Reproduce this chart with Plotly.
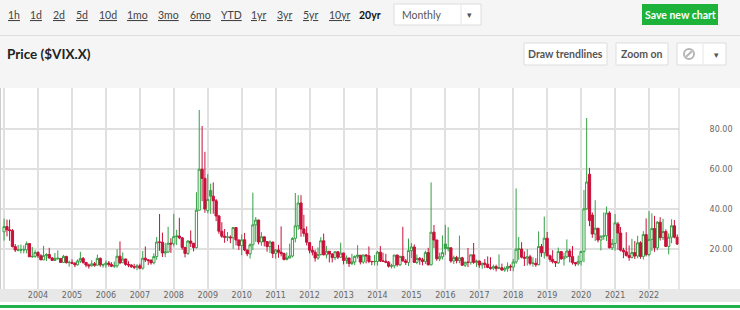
import plotly.graph_objects as go
import pandas as pd

W, H = 740, 310

# ---------------- data (monthly OHLC of $VIX.X, Jan 2003 - Nov 2022) ----------------
months = list(pd.date_range("2003-01-01", periods=239, freq="MS"))

opens = [
    28.6, 31.2, 29.6, 29.2, 21.2, 19.4, 19.6, 19.5, 19.6, 22.7, 16.1, 16.3,  # 2003
    18.3, 16.6, 14.6, 16.7, 17.2, 15.5, 14.3, 15.4, 15.3, 13.3, 16.3, 13.2,  # 2004
    13.3, 12.8, 12.1, 14.0, 15.3, 13.3, 12.0, 11.6, 12.6, 11.9, 15.3, 12.0,  # 2005
    12.1, 13.0, 12.3, 11.4, 11.6, 16.4, 13.1, 15.0, 12.3, 12.0, 11.1, 10.9,  # 2006
    11.6, 10.4, 15.4, 14.6, 14.2, 13.1, 16.2, 23.5, 23.4, 18.0, 18.5, 22.9,  # 2007
    22.6, 26.2, 26.5, 25.6, 20.8, 17.8, 24.0, 22.9, 20.7, 39.4, 59.9, 55.3,  # 2008
    39.2, 49.3, 46.4, 44.1, 36.5, 28.9, 26.4, 25.9, 26.0, 25.6, 30.7, 24.5,  # 2009
    21.7, 24.6, 19.5, 17.6, 22.1, 32.1, 34.5, 23.5, 26.1, 23.7, 21.2, 23.5,  # 2010
    17.8, 19.5, 18.4, 17.7, 14.8, 15.5, 16.5, 25.3, 31.6, 43.0, 30.0, 27.8,  # 2011
    23.2, 19.4, 18.4, 15.5, 17.2, 24.1, 17.1, 18.9, 17.5, 15.7, 18.6, 15.9,  # 2012
    18.0, 14.3, 15.5, 12.7, 13.5, 16.3, 16.9, 13.5, 17.0, 16.6, 13.8, 13.8,  # 2013
    13.7, 18.4, 14.0, 13.9, 13.4, 11.4, 11.6, 17.0, 12.1, 16.3, 14.0, 13.3,  # 2014
    19.2, 21.0, 13.3, 15.3, 14.6, 13.8, 18.2, 12.1, 28.4, 24.5, 15.1, 16.1,  # 2015
    22.5, 20.2, 20.6, 14.0, 15.7, 14.2, 15.6, 11.9, 13.4, 13.3, 17.1, 13.3,  # 2016
    14.0, 12.0, 12.9, 12.4, 10.8, 10.4, 11.2, 10.3, 10.6, 9.5, 10.2, 11.3,   # 2017
    11.0, 13.5, 19.9, 20.0, 15.9, 15.4, 16.1, 12.8, 12.9, 12.1, 21.2, 18.1,  # 2018
    25.4, 16.6, 14.8, 13.7, 13.1, 18.7, 15.1, 16.1, 19.0, 16.2, 13.2, 12.6,  # 2019
    13.8, 18.8, 40.1, 57.4, 37.0, 27.5, 30.4, 24.5, 26.6, 26.6, 38.0, 20.6,  # 2020
    22.8, 32.5, 28.0, 19.4, 18.6, 16.8, 15.8, 18.2, 16.5, 23.1, 16.3, 27.2,  # 2021
    17.2, 24.8, 30.2, 20.6, 33.4, 25.7, 28.7, 21.3, 25.9, 31.6, 25.9,        # 2022
]
highs = [
    35.2, 34.7, 34.7, 30.0, 22.5, 22.0, 22.2, 21.8, 23.8, 22.8, 21.0, 19.4,
    18.8, 17.4, 21.6, 17.9, 20.6, 16.0, 18.0, 19.3, 15.4, 17.1, 16.6, 14.2,
    14.8, 13.5, 14.8, 18.6, 16.0, 13.5, 12.7, 14.4, 13.5, 17.2, 15.8, 12.7,
    14.3, 14.0, 13.4, 13.7, 19.9, 23.8, 18.3, 15.2, 13.9, 12.4, 12.6, 12.4,
    12.7, 19.0, 21.3, 15.0, 15.0, 17.8, 26.0, 37.5, 28.2, 23.1, 31.1, 25.4,
    37.6, 29.6, 35.6, 26.0, 21.0, 24.4, 29.3, 23.0, 48.4, 89.5, 81.5, 68.6,
    57.4, 52.7, 53.3, 45.0, 37.0, 33.4, 30.0, 28.5, 26.8, 31.0, 31.0, 24.7,
    27.3, 28.0, 19.6, 22.8, 48.2, 36.0, 34.6, 28.4, 26.1, 23.9, 24.3, 23.6,
    19.9, 22.1, 31.3, 18.2, 18.3, 22.7, 25.9, 48.0, 46.9, 46.9, 37.1, 31.3,
    23.3, 21.5, 19.6, 20.8, 25.9, 27.7, 21.5, 19.0, 18.0, 19.0, 19.0, 23.2,
    18.1, 16.8, 15.6, 17.6, 16.8, 21.9, 17.0, 17.2, 17.4, 21.3, 14.0, 17.0,
    19.0, 21.5, 18.2, 17.6, 14.0, 12.6, 17.0, 17.1, 16.6, 31.1, 15.0, 25.2,
    23.0, 22.3, 17.3, 16.0, 15.6, 19.2, 20.6, 53.3, 32.0, 24.6, 18.2, 26.8,
    32.1, 30.9, 20.7, 16.7, 16.6, 26.7, 16.1, 13.6, 20.5, 17.2, 23.0, 14.7,
    14.2, 13.1, 15.0, 16.3, 15.9, 12.2, 12.2, 17.3, 12.7, 11.2, 13.3, 12.3,
    15.0, 50.3, 26.0, 23.4, 18.8, 19.9, 17.1, 15.8, 15.4, 28.8, 22.5, 36.2,
    28.5, 17.2, 19.4, 14.0, 20.7, 19.0, 18.1, 24.8, 20.0, 21.5, 13.5, 16.7,
    19.0, 49.5, 85.5, 60.6, 38.3, 44.4, 30.5, 26.7, 38.3, 41.2, 38.9, 25.0,
    37.5, 33.5, 31.0, 20.6, 28.4, 21.8, 25.1, 24.0, 26.6, 23.9, 28.9, 35.3,
    38.9, 37.8, 36.6, 34.0, 35.9, 35.1, 29.8, 27.8, 34.9, 34.5, 27.3,
]
lows = [
    24.2, 26.3, 24.1, 20.8, 18.5, 18.8, 17.8, 17.8, 17.8, 16.0, 15.6, 15.6,
    15.5, 14.4, 14.4, 14.0, 15.2, 14.1, 14.0, 14.5, 13.1, 13.2, 12.7, 11.2,
    12.5, 10.9, 11.7, 13.0, 12.6, 10.9, 10.2, 11.3, 11.1, 11.8, 11.1, 10.7,
    10.6, 11.1, 10.9, 10.6, 10.6, 12.4, 13.0, 11.6, 10.9, 10.6, 9.9, 9.4,
    9.9, 9.7, 13.5, 12.0, 12.2, 12.3, 14.6, 19.1, 16.0, 15.9, 18.1, 18.0,
    21.3, 22.0, 24.9, 19.6, 15.8, 17.1, 21.0, 18.8, 20.2, 39.3, 43.9, 38.1,
    37.9, 37.6, 37.6, 33.9, 27.6, 25.6, 23.1, 23.9, 22.9, 20.1, 21.8, 19.5,
    16.9, 18.9, 16.4, 15.2, 19.4, 23.6, 22.3, 21.6, 21.3, 18.6, 18.0, 15.5,
    15.2, 15.6, 16.3, 14.3, 14.3, 15.3, 15.8, 23.3, 29.6, 26.1, 26.2, 21.8,
    17.8, 16.8, 13.7, 14.6, 16.8, 16.8, 15.3, 13.3, 13.3, 14.4, 14.9, 15.5,
    12.3, 12.6, 11.0, 11.9, 11.9, 15.2, 12.3, 12.6, 12.8, 12.9, 11.9, 11.7,
    11.8, 13.5, 13.7, 12.9, 10.7, 10.3, 10.3, 11.2, 11.5, 13.7, 12.0, 11.5,
    15.5, 13.3, 12.4, 12.1, 11.8, 12.5, 11.8, 11.8, 20.5, 14.1, 13.9, 14.8,
    16.9, 18.8, 13.1, 12.5, 12.8, 12.9, 11.5, 11.0, 11.0, 12.2, 12.6, 11.0,
    10.6, 10.1, 10.4, 10.4, 9.6, 9.4, 8.8, 9.9, 9.2, 8.6, 8.6, 9.0,
    8.9, 12.6, 14.6, 15.3, 11.5, 11.7, 11.8, 11.2, 11.1, 11.9, 16.1, 15.2,
    16.3, 13.5, 12.8, 11.0, 12.5, 14.6, 11.7, 15.5, 13.3, 12.2, 11.4, 11.7,
    11.8, 13.4, 39.6, 31.4, 25.6, 24.0, 23.3, 19.3, 24.6, 24.0, 20.3, 19.5,
    19.2, 19.6, 18.8, 15.4, 16.2, 14.1, 15.3, 15.0, 15.4, 15.1, 14.7, 16.3,
    16.3, 19.0, 18.6, 19.4, 24.2, 24.5, 21.0, 17.3, 22.9, 25.3, 22.0,
]
closes = [
    31.2, 29.6, 29.2, 21.2, 19.5, 19.5, 19.5, 19.6, 22.7, 16.1, 16.3, 18.3,
    16.6, 14.6, 16.7, 17.2, 15.5, 14.3, 15.3, 15.3, 13.3, 16.3, 13.2, 13.3,
    12.8, 12.1, 14.0, 15.3, 13.3, 12.0, 11.6, 12.6, 11.9, 15.3, 12.1, 12.1,
    13.0, 12.3, 11.4, 11.6, 16.4, 13.1, 15.0, 12.3, 12.0, 11.1, 10.9, 11.6,
    10.4, 15.4, 14.6, 14.2, 13.1, 16.2, 23.5, 23.4, 18.0, 18.5, 22.9, 22.5,
    26.2, 26.5, 25.6, 20.8, 17.8, 24.0, 22.9, 20.7, 39.4, 59.9, 55.3, 40.0,
    44.8, 46.4, 44.1, 36.5, 28.9, 26.4, 25.9, 26.0, 25.6, 30.7, 24.5, 21.7,
    24.6, 19.5, 17.6, 22.1, 32.1, 34.5, 23.5, 26.1, 23.7, 21.2, 23.5, 17.8,
    19.5, 18.4, 17.7, 14.8, 15.5, 16.5, 25.3, 31.6, 43.0, 30.0, 27.8, 23.4,
    19.4, 18.4, 15.5, 17.2, 24.1, 17.1, 18.9, 17.5, 15.7, 18.6, 15.9, 18.0,
    14.3, 15.5, 12.7, 13.5, 16.3, 16.9, 13.5, 17.0, 16.6, 13.8, 13.7, 13.7,
    18.4, 14.0, 13.9, 13.4, 11.4, 11.6, 17.0, 12.1, 16.3, 14.0, 13.3, 19.2,
    21.0, 13.3, 15.3, 14.6, 13.8, 18.2, 12.1, 28.4, 24.5, 15.1, 16.1, 18.2,
    20.2, 20.6, 14.0, 15.7, 14.2, 15.6, 11.9, 13.4, 13.3, 17.1, 13.3, 14.0,
    12.0, 12.9, 12.4, 10.8, 10.4, 11.2, 10.3, 10.6, 9.5, 10.2, 11.3, 11.0,
    13.5, 19.9, 20.0, 15.9, 15.4, 16.1, 12.8, 12.9, 12.1, 21.2, 18.1, 25.4,
    16.6, 14.8, 13.7, 13.1, 18.7, 15.1, 16.1, 19.0, 16.2, 13.2, 12.6, 13.8,
    18.8, 40.1, 53.5, 34.2, 27.5, 30.4, 24.5, 26.4, 26.4, 38.0, 20.6, 22.8,
    33.1, 28.0, 19.4, 18.6, 16.8, 15.8, 18.2, 16.5, 23.1, 16.3, 27.2, 17.2,
    24.8, 30.2, 20.6, 33.4, 25.7, 28.7, 21.3, 25.9, 31.6, 25.9, 22.5,
]

year_ticks = [f"{y}-01-01" for y in range(2003, 2023)]
year_labels = [""] + [str(y) for y in range(2004, 2023)]
price_ticks = [20, 40, 60, 80]

period_labels = ["1h", "1d", "2d", "5d", "10d", "1mo", "3mo", "6mo", "YTD",
                 "1yr", "3yr", "5yr", "10yr"]
period_x = [6, 28, 51, 74, 97, 125, 156, 188, 219, 249, 275, 301, 327]

# ---------------- styling ----------------
GREEN = "#35a045"
RED = "#c8103a"
GRID = "#e0e0e0"
PAGE = "#f5f5f5"


def px(x):
    return x / W


def py(y):
    return (H - y) / H


n = len(closes)
prev = [opens[0]] + closes[:-1]
up = [i for i in range(n) if closes[i] >= prev[i]]
dn = [i for i in range(n) if closes[i] < prev[i]]


def sub(idx, arr):
    return [arr[i] for i in idx]


fig = go.Figure()
for idx, col in ((up, GREEN), (dn, RED)):
    fig.add_trace(go.Candlestick(
        x=sub(idx, months), open=sub(idx, opens), high=sub(idx, highs),
        low=sub(idx, lows), close=sub(idx, closes),
        increasing=dict(line=dict(color=col, width=1), fillcolor="white"),
        decreasing=dict(line=dict(color=col, width=1), fillcolor=col),
        whiskerwidth=0, showlegend=False,
    ))

shapes = []


def rect(x0, y0, x1, y1, fill, line=None, layer="below", lw=1):
    shapes.append(dict(type="rect", xref="paper", yref="paper",
                       x0=px(x0), x1=px(x1), y0=py(y1), y1=py(y0),
                       fillcolor=fill, layer=layer,
                       line=dict(width=lw if line else 0, color=line or fill)))


def hline(x0, y0, x1, y1, color, width=1, layer="below"):
    shapes.append(dict(type="line", xref="paper", yref="paper",
                       x0=px(x0), x1=px(x1), y0=py(y0), y1=py(y1),
                       line=dict(color=color, width=width), layer=layer))


# chart frame pieces
rect(679, 88, 740, 289, "white")
rect(0, 289, 740, 302, "#e8e8e8")
rect(0, 302, 740, 310, "white")
rect(0, 305, 740, 308, "#22b14c", layer="above")
hline(0.5, 88, 0.5, 289, "#cfcfcf", layer="above")
hline(679, 88, 679, 289, "#cfcfcf", layer="above")

# toolbar
hline(0, 35.5, 740, 35.5, "#dedede")
rect(394, 4, 481, 25, "white", line="#dddddd")
hline(461, 4, 461, 25, "#e6e6e6")
rect(642, 4, 718, 25, "#1db33b")
rect(524, 43, 607, 65, "white", line="#dddddd")
rect(616, 43, 668, 65, "white", line="#dddddd")
rect(677, 43, 726, 65, "white", line="#dddddd")
hline(703, 43, 703, 65, "#e6e6e6")
shapes.append(dict(type="circle", xref="paper", yref="paper",
                   x0=px(684), x1=px(694), y0=py(59), y1=py(49),
                   line=dict(color="#b5b5b5", width=2), layer="above"))
hline(686.2, 56.8, 691.8, 51.2, "#b5b5b5", width=2, layer="above")

annotations = []


def label(text, x, y, size=10.5, color="#444", family="Lato", anchor="left"):
    annotations.append(dict(text=text, x=px(x), y=py(y), xref="paper", yref="paper",
                            xanchor=anchor, yanchor="middle", showarrow=False,
                            font=dict(family=family, size=size, color=color)))


for t, x in zip(period_labels, period_x):
    label(f"<u>{t}</u>", x, 15)
label("<b>20yr</b>", 357, 15, color="#111")
label("Monthly", 400, 15, color="#555")
label("▾", 470, 15, size=9, color="#555", family="DejaVu Sans", anchor="center")
label("<b>Save new chart</b>", 680, 15, color="white", anchor="center")
label("<b>Price ($VIX.X)</b>", 5, 54, size=13.5, color="#222")
label("<b>Draw trendlines</b>", 565.5, 54, size=10.5, color="#555", anchor="center")
label("<b>Zoom on</b>", 642, 54, size=10.5, color="#555", anchor="center")
label("▾", 716, 55, size=9, color="#555", family="DejaVu Sans", anchor="center")

fig.update_layout(
    width=W, height=H, margin=dict(l=0, r=0, t=0, b=0),
    paper_bgcolor=PAGE, plot_bgcolor="white",
    showlegend=False, boxgap=0.15, boxgroupgap=0,
    shapes=shapes, annotations=annotations,
    xaxis=dict(
        type="date", domain=[0, px(679)],
        range=["2002-11-18", "2022-11-19 18:00"],
        tickvals=year_ticks, ticktext=year_labels,
        showgrid=True, gridcolor=GRID, gridwidth=2,
        ticks="", showline=False, zeroline=False,
        tickfont=dict(family="DejaVu Sans", size=8, color="#666"),
        rangeslider=dict(visible=False), fixedrange=True,
    ),
    yaxis=dict(
        domain=[py(289), py(88)], range=[0, 100.5], side="right",
        tickvals=price_ticks, tickformat=".2f",
        ticks="outside", ticklen=28, tickcolor="rgba(0,0,0,0)",
        showgrid=True, gridcolor=GRID, gridwidth=2,
        zeroline=False, showline=False,
        tickfont=dict(family="DejaVu Sans", size=8, color="#666"),
        fixedrange=True,
    ),
)

fig.write_html("out.html")
